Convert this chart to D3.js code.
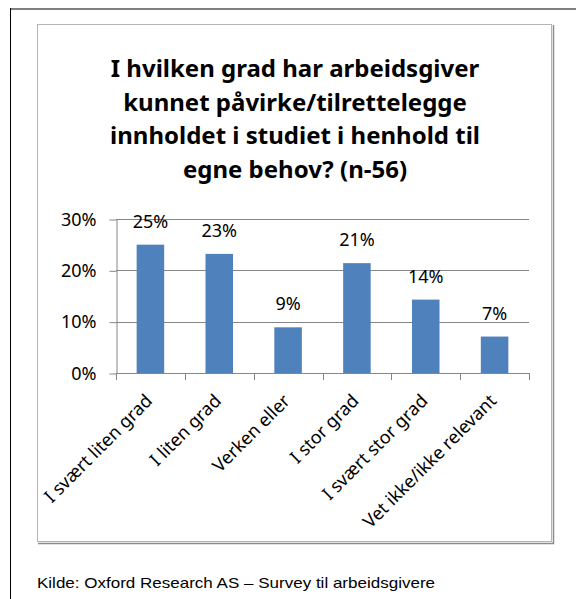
<!DOCTYPE html>
<html>
<head>
<meta charset="utf-8">
<script src="https://cdn.jsdelivr.net/npm/d3@7"></script>
<style>
  html, body { margin: 0; padding: 0; background: #fff; }
  svg { display: block; }
</style>
</head>
<body>
<svg id="chart" width="576" height="599"></svg>
<script>
const categories = [
  'I svært liten grad',
  'I liten grad',
  'Verken eller',
  'I stor grad',
  'I svært stor grad',
  'Vet ikke/ikke relevant'
];
const values = [0.25, 0.232, 0.089, 0.214, 0.143, 0.071];
const valueLabels = ['25%', '23%', '9%', '21%', '14%', '7%'];
const yTicks = [0, 0.1, 0.2, 0.3];
const titleLines = [
  'I hvilken grad har arbeidsgiver',
  'kunnet påvirke/tilrettelegge',
  'innholdet i studiet i henhold til',
  'egne behov? (n-56)'
];
const source = 'Kilde: Oxford Research AS \u2013 Survey til arbeidsgivere';

const svg = d3.select('#chart');
const font = "'Noto Sans', 'Open Sans', sans-serif";

// page frame lines
svg.append('line')
  .attr('x1', 10).attr('x2', 576).attr('y1', 9).attr('y2', 9)
  .attr('stroke', '#7f7f7f').attr('stroke-width', 2);
svg.append('line')
  .attr('x1', 10.5).attr('x2', 10.5).attr('y1', 8).attr('y2', 599)
  .attr('stroke', '#000').attr('stroke-width', 1);

// chart box with a small shadow
svg.append('path')
  .attr('d', 'M553.5,25 V543.5 H38')
  .attr('fill', 'none').attr('stroke', '#8c8c8c').attr('stroke-width', 1.5);
svg.append('rect')
  .attr('x', 37.5).attr('y', 24.5).attr('width', 514).attr('height', 517)
  .attr('fill', '#fff').attr('stroke', '#b4b4b4');

// title
svg.append('g')
  .selectAll('text')
  .data(titleLines)
  .join('text')
  .attr('x', 295)
  .attr('y', (d, i) => 77 + i * 33.5)
  .attr('text-anchor', 'middle')
  .attr('font-family', font)
  .attr('font-weight', 'bold')
  .attr('font-size', 24)
  .attr('fill', '#000')
  .text(d => d);

// scales
const x = d3.scaleBand()
  .domain(categories)
  .range([116, 529])
  .paddingInner(0.6)
  .paddingOuter(0.3);

const y = d3.scaleLinear()
  .domain([0, 0.3])
  .range([373, 219]);

// gridlines
svg.append('g')
  .selectAll('line')
  .data(yTicks)
  .join('line')
  .attr('x1', 116).attr('x2', 529)
  .attr('y1', d => Math.round(y(d)) + 0.5)
  .attr('y2', d => Math.round(y(d)) + 0.5)
  .attr('stroke', '#868686');

// y axis
const yAxis = svg.append('g')
  .attr('transform', 'translate(116.5,0.5)')
  .call(d3.axisLeft(y)
    .tickValues(yTicks)
    .tickFormat(d3.format('.0%'))
    .tickSizeInner(7)
    .tickSizeOuter(0)
    .tickPadding(13));
yAxis.select('.domain').attr('stroke', '#868686');
yAxis.selectAll('.tick line').attr('stroke', '#868686');
yAxis.selectAll('.tick text')
  .attr('font-family', font)
  .attr('font-size', 18)
  .attr('fill', '#000');

// x axis tick marks at band boundaries
const step = x.step();
const bounds = categories.map(c => x(c) - step * x.paddingInner() / 2).concat([529]);
svg.append('g')
  .selectAll('line')
  .data(bounds)
  .join('line')
  .attr('x1', d => Math.round(d) + 0.5)
  .attr('x2', d => Math.round(d) + 0.5)
  .attr('y1', y(0))
  .attr('y2', y(0) + 7)
  .attr('stroke', '#868686');

// bars
svg.append('g')
  .selectAll('rect')
  .data(values)
  .join('rect')
  .attr('x', (d, i) => x(categories[i]))
  .attr('width', x.bandwidth())
  .attr('y', d => y(d))
  .attr('height', d => y(0) - y(d))
  .attr('fill', '#4f81bd');

// value labels
svg.append('g')
  .selectAll('text')
  .data(values)
  .join('text')
  .attr('x', (d, i) => x(categories[i]) + x.bandwidth() / 2)
  .attr('y', d => y(d) - 17)
  .attr('text-anchor', 'middle')
  .attr('font-family', font)
  .attr('font-size', 18)
  .attr('fill', '#000')
  .text((d, i) => valueLabels[i]);

// rotated category labels
svg.append('g')
  .selectAll('text')
  .data(categories)
  .join('text')
  .attr('transform', d => `translate(${x(d) + x.bandwidth() / 2 + 3},${y(0) + 29}) rotate(-45)`)
  .attr('text-anchor', 'end')
  .attr('font-family', font)
  .attr('font-size', 18)
  .attr('fill', '#000')
  .text(d => d);

// source
svg.append('text')
  .attr('x', 37)
  .attr('y', 588)
  .attr('font-family', "'Liberation Sans', Arial, sans-serif")
  .attr('font-size', 15)
  .attr('textLength', 398)
  .attr('lengthAdjust', 'spacingAndGlyphs')
  .attr('fill', '#000')
  .text(source);
</script>
</body>
</html>
